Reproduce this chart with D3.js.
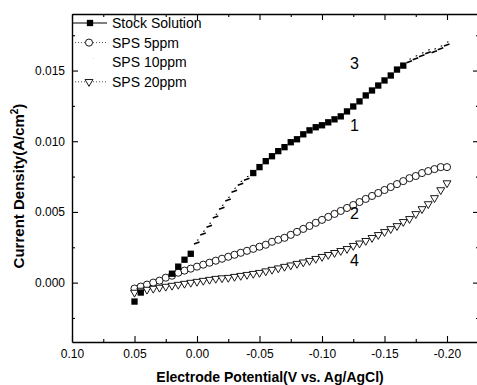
<!DOCTYPE html>
<html>
<head>
<meta charset="utf-8">
<script src="https://cdn.jsdelivr.net/npm/d3@7"></script>
<style>
  body { margin: 0; background: #fff; }
  svg { display: block; }
  text { font-family: "Liberation Sans", Arial, sans-serif; fill: #000; }
</style>
</head>
<body>
<svg width="477" height="385"></svg>
<script>
// === Data

const POTENTIAL = [
  0.050, 0.045, 0.040, 0.035, 0.030, 0.025, 0.020, 0.015, 0.010, 0.005,
  0.000, -0.005, -0.010, -0.015, -0.020, -0.025, -0.030, -0.035, -0.040, -0.045,
  -0.050, -0.055, -0.060, -0.065, -0.070, -0.075, -0.080, -0.085, -0.090, -0.095,
  -0.100, -0.105, -0.110, -0.115, -0.120, -0.125, -0.130, -0.135, -0.140, -0.145,
  -0.150, -0.155, -0.160, -0.165, -0.170, -0.175, -0.180, -0.185, -0.190, -0.195,
  -0.200
];

// squares only where they show in the picture
const STOCK = [
  -0.00134, -0.00070, null, null, null, null, 0.00063, 0.00113, 0.00162, 0.00204,
  null, null, null, null, null, null, null, null, null, 0.00775,
  0.00817, 0.00859, 0.00894, 0.00930, 0.00958, 0.00993, 0.01014, 0.01049, 0.01077, 0.01099,
  0.01113, 0.01134, 0.01155, 0.01176, 0.01211, 0.01246, 0.01282, 0.01324, 0.01359, 0.01394,
  0.01430, 0.01465, 0.01507, 0.01535, null, null, null, null, null, null,
  null
];

const SPS5 = [
  -0.00042, -0.00028, -0.00014, 0.00000, 0.00014, 0.00035, 0.00049, 0.00070, 0.00085, 0.00099,
  0.00113, 0.00127, 0.00141, 0.00155, 0.00169, 0.00183, 0.00197, 0.00211, 0.00225, 0.00239,
  0.00254, 0.00268, 0.00289, 0.00303, 0.00317, 0.00338, 0.00359, 0.00380, 0.00401, 0.00423,
  0.00444, 0.00465, 0.00486, 0.00507, 0.00528, 0.00549, 0.00570, 0.00592, 0.00613, 0.00634,
  0.00655, 0.00676, 0.00697, 0.00718, 0.00739, 0.00754, 0.00775, 0.00789, 0.00803, 0.00817,
  0.00817
];

// faint dash marks, visible in the gaps of curve 1
const SPS10 = [
  null, null, -0.00042, -0.00014, 0.00014, 0.00035, null, null, null, null,
  0.00282, 0.00345, 0.00401, 0.00465, 0.00528, 0.00585, 0.00648, 0.00697, 0.00732, null,
  null, null, null, null, null, null, null, null, null, null,
  null, null, null, null, null, null, null, null, null, null,
  null, null, null, null, 0.01563, 0.01585, 0.01606, 0.01627, 0.01634, 0.01655,
  0.01683
];

const SPS20 = [
  -0.00070, -0.00056, -0.00049, -0.00042, -0.00035, -0.00028, -0.00021, -0.00014, -0.00007, 0.00000,
  0.00007, 0.00014, 0.00021, 0.00028, 0.00032, 0.00035, 0.00042, 0.00049, 0.00056, 0.00063,
  0.00070, 0.00081, 0.00092, 0.00102, 0.00113, 0.00123, 0.00134, 0.00144, 0.00155, 0.00169,
  0.00183, 0.00197, 0.00211, 0.00225, 0.00239, 0.00261, 0.00278, 0.00296, 0.00317, 0.00338,
  0.00359, 0.00380, 0.00401, 0.00430, 0.00451, 0.00486, 0.00521, 0.00556, 0.00599, 0.00655,
  0.00704
];

const SERIES_NAMES = ['Stock Solution', 'SPS 5ppm', 'SPS 10ppm', 'SPS 20ppm'];
const CURVE_LABELS = [
  { text: '3', x: -0.126, y: 0.0155 },
  { text: '1', x: -0.126, y: 0.0111 },
  { text: '2', x: -0.126, y: 0.0049 },
  { text: '4', x: -0.126, y: 0.0016 }
];

const X_TICKS = [0.10, 0.05, 0.00, -0.05, -0.10, -0.15, -0.20];
const X_MINOR = [0.075, 0.025, -0.025, -0.075, -0.125, -0.175];
const Y_TICKS = [0.000, 0.005, 0.010, 0.015];
const Y_MINOR = [-0.0025, 0.0025, 0.0075, 0.0125, 0.0175];


// === Layout

const PLOT = { left: 72, right: 477, top: 14, bottom: 342 };

const svg = d3.select('svg');
const x = d3.scaleLinear().domain([0.10, -0.224]).range([PLOT.left, PLOT.right]);
const y = d3.scaleLinear().domain([-0.0042, 0.019]).range([PLOT.bottom, PLOT.top]);

function styleAxis(g, withText) {
  g.select('.domain').attr('stroke', '#000').attr('stroke-width', 1.4);
  g.selectAll('.tick line').attr('stroke', '#000').attr('stroke-width', 1.1);
  g.selectAll('.tick text').attr('font-size', 12)
    .attr('font-family', '"Liberation Sans", Arial, sans-serif');
  if (!withText) g.selectAll('.tick text').remove();
}

function addAxis(axis, tx, ty, withText, keepDomain) {
  const g = svg.append('g').attr('transform', `translate(${tx},${ty})`).call(axis);
  styleAxis(g, withText);
  if (!keepDomain) g.select('.domain').remove();
  return g;
}

const fmtX = d => d.toFixed(2);
const fmtY = d => d.toFixed(3);

// major ticks, all four sides, pointing inward
addAxis(d3.axisBottom(x).tickValues(X_TICKS).tickFormat(fmtX).tickSizeInner(-6).tickSizeOuter(0).tickPadding(7),
  0, PLOT.bottom, true, true);
addAxis(d3.axisTop(x).tickValues(X_TICKS).tickSizeInner(-6).tickSizeOuter(0),
  0, PLOT.top, false, true);
addAxis(d3.axisLeft(y).tickValues(Y_TICKS).tickFormat(fmtY).tickSizeInner(-6).tickSizeOuter(0).tickPadding(7),
  PLOT.left, 0, true, true);
addAxis(d3.axisRight(y).tickValues(Y_TICKS).tickSizeInner(-6).tickSizeOuter(0),
  PLOT.right + 2, 0, false, false);

// minor ticks
addAxis(d3.axisBottom(x).tickValues(X_MINOR).tickFormat('').tickSizeInner(-3).tickSizeOuter(0), 0, PLOT.bottom, false, false);
addAxis(d3.axisTop(x).tickValues(X_MINOR).tickFormat('').tickSizeInner(-3).tickSizeOuter(0), 0, PLOT.top, false, false);
addAxis(d3.axisLeft(y).tickValues(Y_MINOR).tickFormat('').tickSizeInner(-3).tickSizeOuter(0), PLOT.left, 0, false, false);
addAxis(d3.axisRight(y).tickValues(Y_MINOR).tickFormat('').tickSizeInner(-3).tickSizeOuter(0), PLOT.right + 2, 0, false, false);


// === Series

const square = d3.symbol(d3.symbolSquare, 40)();
const circle = d3.symbol(d3.symbolCircle, 40)();
const triangle = d3.symbol(d3.symbolTriangle, 27)();

function pointsOf(values) {
  return POTENTIAL.map((p, i) => ({ p: p, v: values[i] })).filter(d => d.v !== null);
}

const lineGen = d3.line().defined(d => d.v !== null).x(d => x(d.p)).y(d => y(d.v));

const plot = svg.append('g');

// thin connecting lines (mostly hidden by markers)
plot.append('path').datum(POTENTIAL.map((p, i) => ({ p: p, v: SPS5[i] })))
  .attr('d', lineGen).attr('fill', 'none').attr('stroke', '#000')
  .attr('stroke-width', 0.6).attr('stroke-dasharray', '1,2');
plot.append('path').datum(POTENTIAL.map((p, i) => ({ p: p, v: SPS20[i] })))
  .attr('d', lineGen).attr('fill', 'none').attr('stroke', '#000')
  .attr('stroke-width', 0.6).attr('stroke-dasharray', '1,2');

plot.selectAll('path.sps10').data(pointsOf(SPS10)).enter().append('path')
  .attr('class', 'sps10')
  .attr('d', 'M-3,1.2L2.5,-0.8M0.5,-3.2L0.9,-2.2')
  .attr('transform', d => `translate(${x(d.p)},${y(d.v)})`)
  .attr('fill', 'none').attr('stroke', '#000').attr('stroke-width', 1.6);

plot.selectAll('path.sps5').data(pointsOf(SPS5)).enter().append('path')
  .attr('class', 'sps5')
  .attr('d', circle)
  .attr('transform', d => `translate(${x(d.p)},${y(d.v)})`)
  .attr('fill', '#fff').attr('stroke', '#000').attr('stroke-width', 0.9);

plot.selectAll('path.sps20').data(pointsOf(SPS20)).enter().append('path')
  .attr('class', 'sps20')
  .attr('d', triangle)
  .attr('transform', d => `translate(${x(d.p)},${y(d.v)}) rotate(180)`)
  .attr('fill', '#fff').attr('stroke', '#000').attr('stroke-width', 0.9);

plot.selectAll('path.stock').data(pointsOf(STOCK)).enter().append('path')
  .attr('class', 'stock')
  .attr('d', square)
  .attr('transform', d => `translate(${x(d.p)},${y(d.v)})`)
  .attr('fill', '#000');

// curve numbers
svg.selectAll('text.curve').data(CURVE_LABELS).enter().append('text')
  .attr('class', 'curve')
  .attr('x', d => x(d.x)).attr('y', d => y(d.y))
  .attr('text-anchor', 'middle').attr('dy', '0.35em')
  .attr('font-size', 16)
  .text(d => d.text);


// === Legend

const legend = svg.append('g').attr('transform', 'translate(72,23)');
const ROW = 19.6;
SERIES_NAMES.forEach(function(name, i) {
  const row = legend.append('g').attr('transform', `translate(0,${i * ROW})`);
  if (i === 0) {
    row.append('line').attr('x1', 0).attr('x2', 35).attr('stroke', '#000').attr('stroke-width', 1);
    row.append('path').attr('d', square).attr('transform', 'translate(18,0)').attr('fill', '#000');
  } else if (i === 1) {
    row.append('line').attr('x1', 0).attr('x2', 35).attr('stroke', '#000')
      .attr('stroke-width', 0.7).attr('stroke-dasharray', '1,2');
    row.append('path').attr('d', circle).attr('transform', 'translate(17,0)')
      .attr('fill', '#fff').attr('stroke', '#000').attr('stroke-width', 0.9);
  } else if (i === 2) {
    row.append('path').attr('d', 'M21,-4L21.5,-3.5').attr('stroke', '#bbb').attr('stroke-width', 1);
  } else {
    row.append('line').attr('x1', 0).attr('x2', 35).attr('stroke', '#000')
      .attr('stroke-width', 0.7).attr('stroke-dasharray', '1,2');
    row.append('path').attr('d', triangle).attr('transform', 'translate(17,0) rotate(180)')
      .attr('fill', '#fff').attr('stroke', '#000').attr('stroke-width', 0.9);
  }
  row.append('text').attr('x', 40).attr('dy', '0.35em').attr('font-size', 14).text(name);
});


// === Axis titles

svg.append('text')
  .attr('x', 270).attr('y', 382)
  .attr('text-anchor', 'middle')
  .attr('font-size', 14).attr('font-weight', 'bold')
  .text('Electrode Potential(V vs. Ag/AgCl)');

const yTitle = svg.append('text')
  .attr('transform', 'translate(24,186) rotate(-90)')
  .attr('text-anchor', 'middle')
  .attr('font-size', 15).attr('font-weight', 'bold');
yTitle.append('tspan').text('Current Density(A/cm');
yTitle.append('tspan').attr('font-size', 10).attr('dy', '-6').text('2');
yTitle.append('tspan').attr('dy', '6').text(')');
</script>
</body>
</html>
